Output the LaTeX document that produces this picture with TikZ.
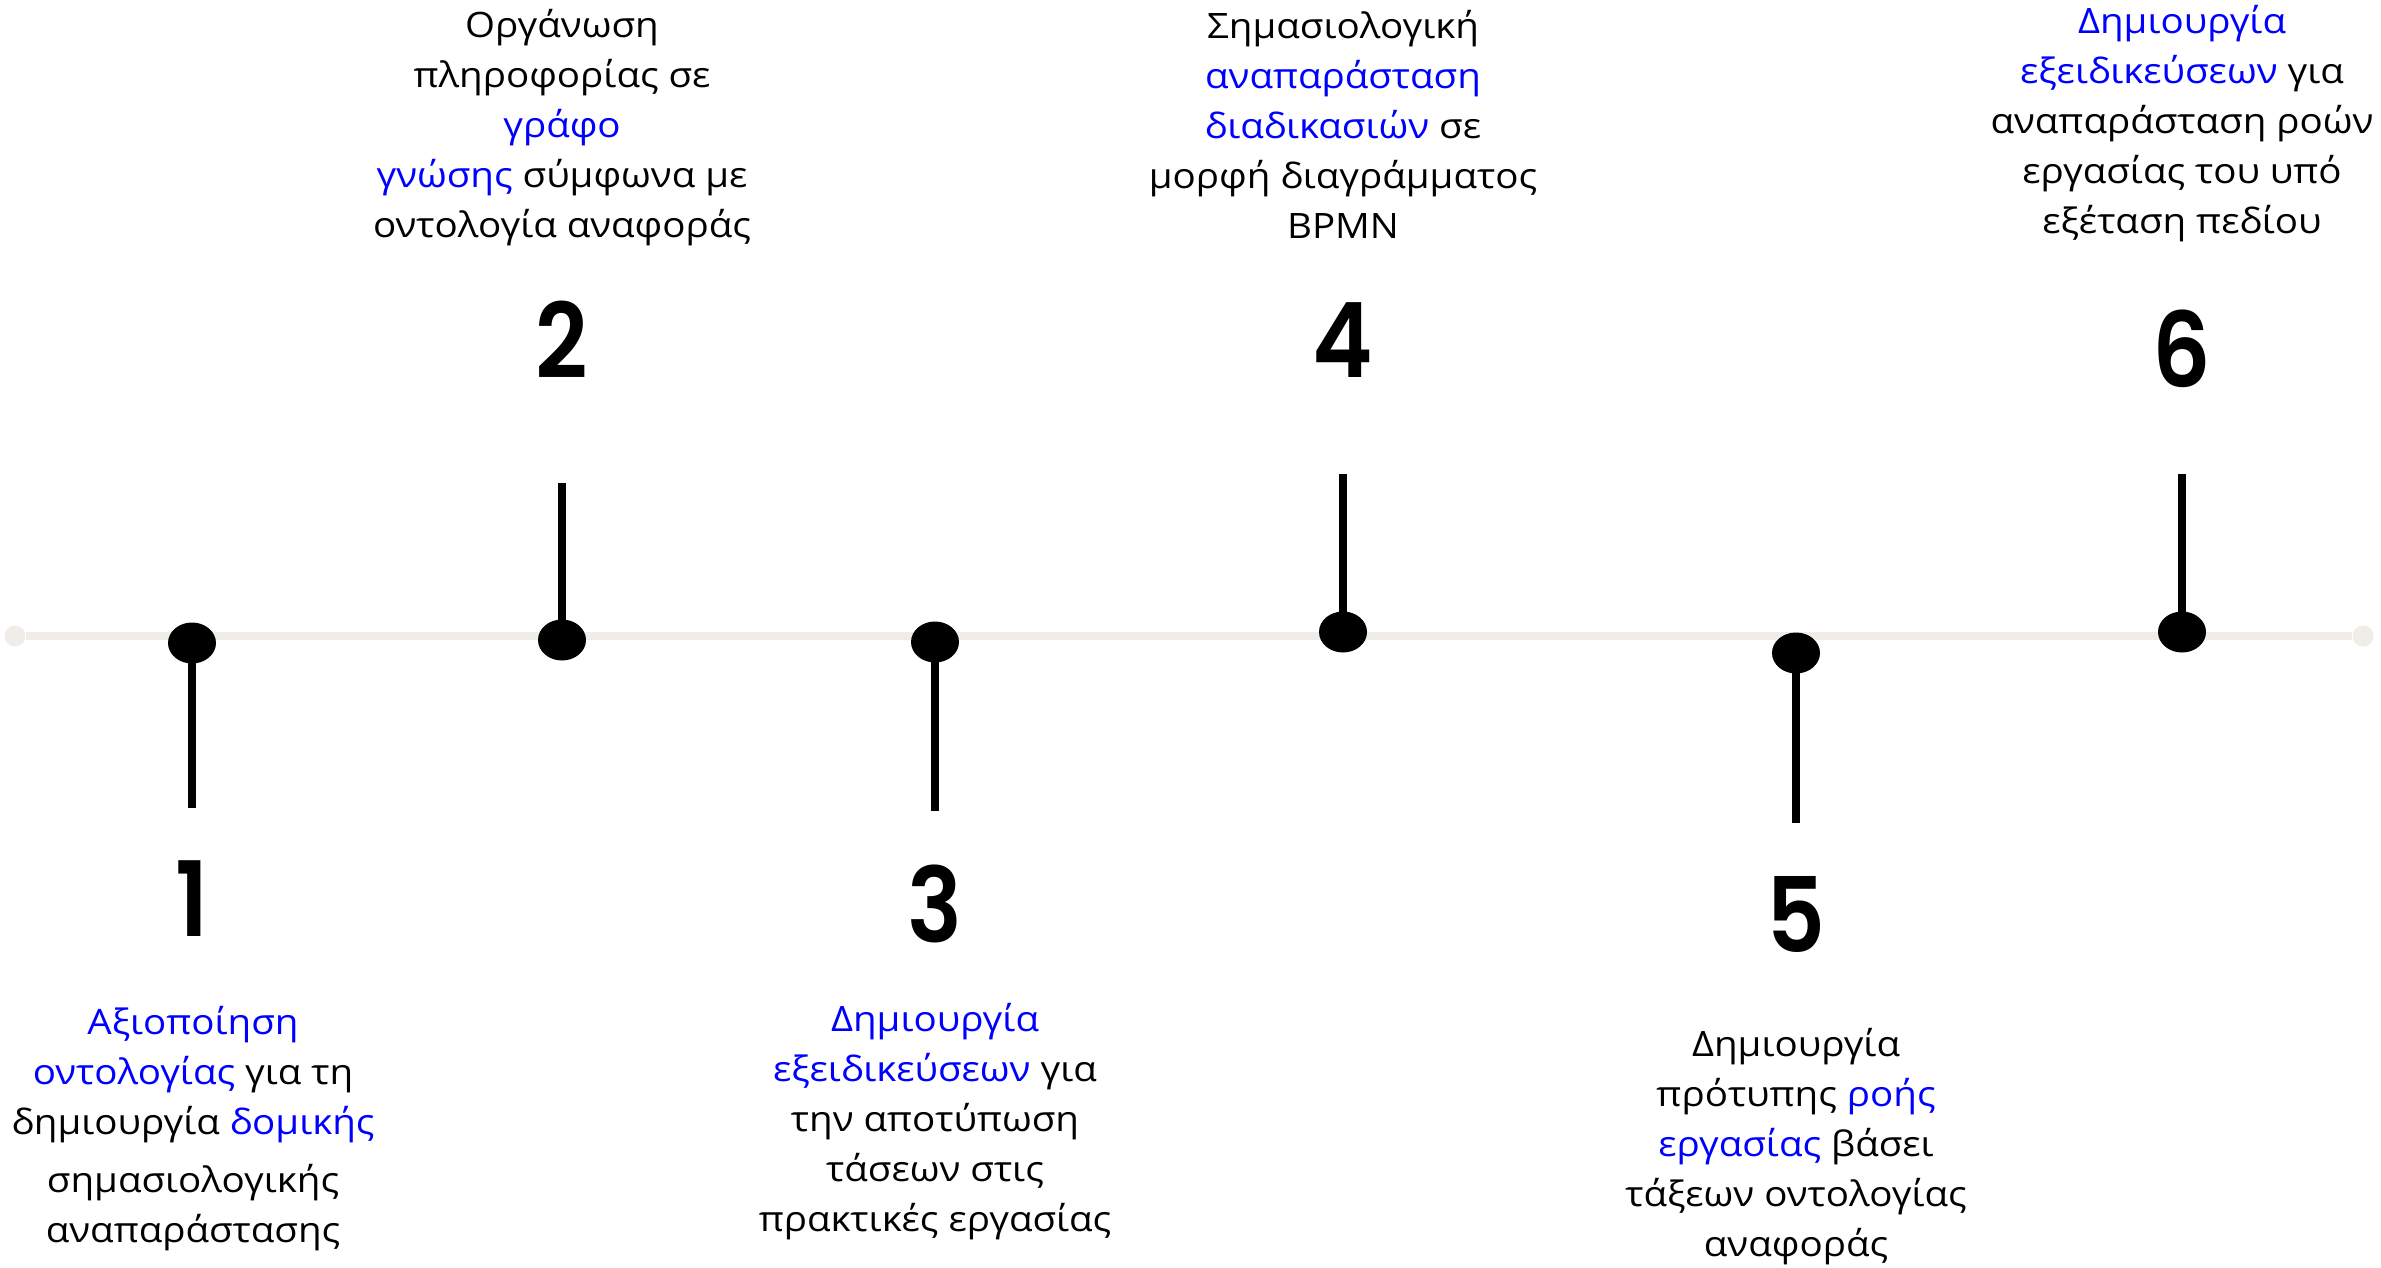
\documentclass[tikz,border=0pt]{standalone}
\usepackage{fontspec}
\setmainfont{Open Sans}[FakeStretch=1.1]
\newfontfamily\numfont{Poppins SemiBold}[FakeStretch=0.88]
\usetikzlibrary{shapes.geometric}
\definecolor{linegray}{RGB}{240,236,232}
\definecolor{wordblue}{RGB}{0,0,255}
\newcommand\bluew[1]{\textcolor{wordblue}{#1}}
\tikzset{
  axis/.style={line width=8pt, linegray},
  enddot/.style={circle, fill=linegray, minimum size=21pt, inner sep=0pt},
  dot/.style={ellipse, fill=black, minimum width=48pt, minimum height=41pt, inner sep=0pt},
  stem/.style={line width=8pt, black},
  num/.style={font=\numfont\fontsize{104}{104}\selectfont, inner sep=0pt},
  txt/.style={align=center, font=\fontsize{35}{50}\selectfont, inner sep=0pt}
}
\begin{document}
\begin{tikzpicture}[x=1pt,y=-1pt]
\useasboundingbox (0,0) rectangle (2381,1268);
% Draw the time line with its end points
\node[enddot] (l) at (15,636) {};
\node[enddot] (r) at (2363,636) {};
\draw[axis] (l) -- (r);
% Draw the markers: dot on the line, stem, and the step number
\foreach \i/\x/\y/\e/\n in {1/192/643/808/899, 2/562/640/483/340, 3/935/642/811/904, 4/1343/632/474/340, 5/1796/653/823/914, 6/2182/632/474/349}
{
  \coordinate (e\i) at (\x,\e);
  \node[dot] (d\i) at (\x,\y) {};
  \draw[stem] (d\i.center) -- (e\i);
  \node[num] (n\i) at (\x,\n) {\i};
}
% Texts below the line
\node[txt] (t1) at (193,1129) {\bluew{Αξιοποίηση}\\ \bluew{οντολογίας} για τη\\ δημιουργία \bluew{δομικής}\\[8pt] σημασιολογικής\\ αναπαράστασης};
\node[txt] (t3) at (935,1122) {\bluew{Δημιουργία}\\ \bluew{εξειδικεύσεων} για\\ την αποτύπωση\\ τάσεων στις\\ πρακτικές εργασίας};
\node[txt] (t5) at (1796,1147) {Δημιουργία\\ πρότυπης \bluew{ροής}\\ \bluew{εργασίας} βάσει\\ τάξεων οντολογίας\\ αναφοράς};
% Texts above the line
\node[txt] (t2) at (562,128) {Οργάνωση\\ πληροφορίας σε\\ \bluew{γράφο}\\ \bluew{γνώσης} σύμφωνα με\\ οντολογία αναφοράς};
\node[txt] (t4) at (1343,124) {Σημασιολογική\\ \bluew{αναπαράσταση}\\ \bluew{διαδικασιών} σε\\ μορφή διαγράμματος\\ BPMN};
\node[txt] (t6) at (2182,124) {\bluew{Δημιουργία}\\ \bluew{εξειδικεύσεων} για\\ αναπαράσταση ροών\\ εργασίας του υπό\\ εξέταση πεδίου};
\end{tikzpicture}
\end{document}
